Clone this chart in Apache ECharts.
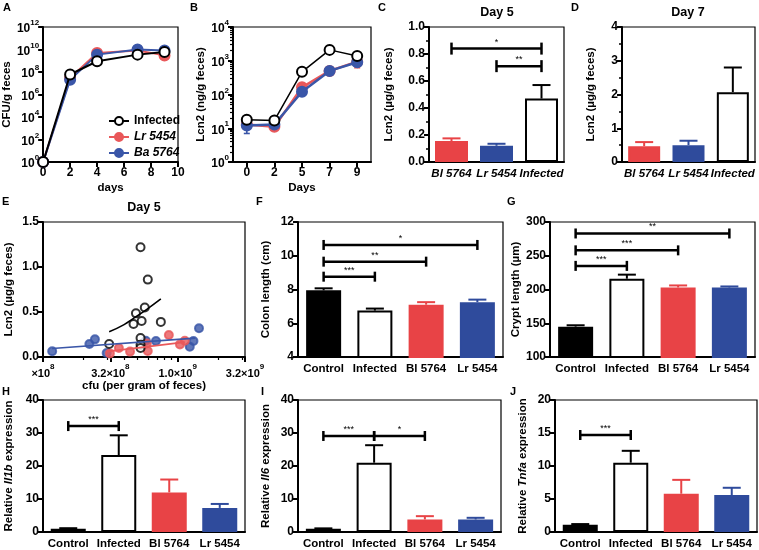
<!DOCTYPE html>
<html><head><meta charset="utf-8">
<script src="https://cdn.jsdelivr.net/npm/echarts@6/dist/echarts.min.js"></script>
<style>html,body{margin:0;padding:0;background:#fff}#c{width:759px;height:550px}</style>
</head><body><div id="c"></div>
<script>
// ---------- DATA ----------
// Panel A
const daysA = [0, 2, 4, 7, 9];
const cfuInfected = [1, 6e7, 9e8, 3.5e9, 6e9];
const cfuLr = [1, 3e7, 5e9, 8e9, 3e9];
const cfuBa = [1, 2e7, 3.5e9, 1e10, 8e9];
// Panel B
const daysB = ['0', '2', '5', '7', '9'];
const lcnInfected = [18, 17, 470, 2100, 1380];
const lcnInfectedErr = [[16, 21], [15, 18], [430, 520], [1600, 2800], [1150, 1650]];
const lcnLr = [13, 11, 163, 500, 940];
const lcnLrErr = [[11, 15], [10, 12], [145, 180], [380, 620], [620, 1100]];
const lcnBa = [12, 13, 121, 500, 900];
const lcnBaErr = [[7, 16], [12, 15], [105, 140], [420, 600], [700, 1050]];
const bStarText = ['**', '***'];
const bStarDay = [3, 3];
const bStarValue = [920, 205];
// Panels C, D
const groupsCD = ['Bl 5764', 'Lr 5454', 'Infected'];
const lcnDay5 = [0.155, 0.12, 0.47];
const lcnDay5Err = [0.02, 0.015, 0.10];
const lcnDay7 = [0.47, 0.50, 2.07];
const lcnDay7Err = [0.12, 0.13, 0.73];
const bracketsC = [[0, 2, 0.84, '*'], [1, 2, 0.71, '**']];
// Panel E (cfu per gram, Lcn2 ug/g)
const eInfCfu = [5.3e8, 6.0e8, 5.7e8, 4.9e8, 5.4e8, 4.7e8, 7.5e8, 3.1e8, 5.3e8, 5.3e8, 5.3e8];
const eInfLcn = [1.22, 0.86, 0.55, 0.485, 0.40, 0.367, 0.39, 0.145, 0.21, 0.135, 0.10];
const eLrCfu = [3.14e8, 3.66e8, 4.43e8, 5.9e8, 6.0e8, 8.6e8, 1.04e9, 1.13e9];
const eLrLcn = [0.04, 0.10, 0.06, 0.15, 0.067, 0.245, 0.14, 0.18];
const eBaCfu = [1.17e8, 2.21e8, 2.43e8, 2.97e8, 5.8e8, 6.9e8, 1.44e9, 1.31e9, 1.23e9];
const eBaLcn = [0.063, 0.144, 0.196, 0.044, 0.18, 0.178, 0.32, 0.178, 0.115];
const eInfFitCfu = [3.1e8, 4.0e8, 4.7e8, 5.9e8, 7.5e8];
const eInfFitLcn = [0.28, 0.36, 0.43, 0.53, 0.645];
const eLrFitCfu = [2.95e8, 1.13e9];
const eLrFitLcn = [0.06, 0.165];
const eBaFitCfu = [1.17e8, 1.35e9];
const eBaFitLcn = [0.095, 0.21];
const eTickExp = [8, 8.5, 9, 9.5];
const eTickMant = ['', '3.2', '1.0', '3.2'];
const eTickPow = ['8', '8', '9', '9'];
// Panels F-J
const groups4 = ['Control', 'Infected', 'Bl 5764', 'Lr 5454'];
const colonLength = [7.95, 6.75, 7.1, 7.25];
const colonLengthErr = [0.12, 0.12, 0.15, 0.15];
const bracketsF = [[0, 1, 8.76, '***'], [0, 2, 9.65, '**'], [0, 3, 10.64, '*']];
const cryptLength = [145, 216, 203, 203];
const cryptLengthErr = [2, 6, 3, 1.5];
const bracketsG = [[0, 1, 235, '***'], [0, 2, 258, '***'], [0, 3, 283, '**']];
const il1b = [1.0, 23.3, 12.0, 7.3];
const il1bErr = [0.15, 6.0, 3.9, 1.2];
const bracketsH = [[0, 1, 32.1, '***']];
const il6 = [1.0, 21.0, 3.8, 3.8];
const il6Err = [0.1, 5.3, 1.0, 0.5];
const bracketsI = [[0, 1, 29.1, '***'], [1, 2, 29.1, '*']];
const tnfa = [1.1, 10.5, 5.8, 5.6];
const tnfaErr = [0.1, 1.8, 2.1, 1.1];
const bracketsJ = [[0, 1, 14.7, '***']];

// ---------- STYLE ----------
const FONT = '"Liberation Sans", Arial, sans-serif';
const RED = '#e84346', BLUE = '#2f4b9c', RED_L = '#e9585a', BLUE_L = '#3a56a8';
const lg = Math.log10;
const chart = echarts.init(document.getElementById('c'), null, {renderer: 'canvas'});

const gridPos = [
  [43, 27, 135, 135],   // A
  [233, 27, 138, 135],  // B
  [429, 27, 135, 135],  // C
  [622, 27, 133, 135],  // D
  [43, 222, 202, 135],  // E
  [298, 222, 205, 135], // F
  [550, 222, 205, 135], // G
  [43, 400, 202, 135],  // H
  [298, 400, 203, 135], // I
  [555, 400, 202, 135]  // J
];
const grid = gridPos.map(p => ({left: p[0], top: p[1], width: p[2], height: p[3], show: true, borderColor: '#000', borderWidth: 1.2, backgroundColor: 'transparent'}));

const aLine = {show: true, onZero: false, lineStyle: {color: '#000', width: 2}};
const aTick = {show: true, length: 5, lineStyle: {color: '#000', width: 2}};
const tFont = {color: '#000', fontFamily: FONT, fontWeight: 'bold', fontSize: 12};
const nameFont = {color: '#000', fontFamily: FONT, fontWeight: 'bold', fontSize: 11.5};
const supRich = {
  b: {fontSize: 12, fontWeight: 'bold', fontFamily: FONT, color: '#000', lineHeight: 16, verticalAlign: 'bottom'},
  s: {fontSize: 8, fontWeight: 'bold', fontFamily: FONT, color: '#000', lineHeight: 8, verticalAlign: 'top'}
};

function yVal(gi, min, max, interval, name, gap, fmt, extra) {
  return Object.assign({
    type: 'value', gridIndex: gi, min, max, interval,
    splitLine: {show: false}, axisLine: aLine, axisTick: aTick,
    axisLabel: Object.assign({}, tFont, {margin: 4, formatter: fmt}),
    name, nameLocation: 'middle', nameGap: gap, nameTextStyle: nameFont
  }, extra || {});
}
function xCat(gi, data, italic, extra) {
  return Object.assign({
    type: 'category', gridIndex: gi, data,
    axisLine: aLine, axisTick: {show: false},
    axisLabel: Object.assign({}, tFont, {fontSize: 11.5, margin: 6, interval: 0, fontStyle: italic ? 'italic' : 'normal'})
  }, extra || {});
}

const xAxis = [], yAxis = [];
// A (0)
xAxis.push({type: 'value', gridIndex: 0, min: 0, max: 10, interval: 2, splitLine: {show: false}, axisLine: aLine, axisTick: aTick,
  axisLabel: Object.assign({}, tFont, {margin: 5}), name: 'days', nameLocation: 'middle', nameGap: 20, nameTextStyle: nameFont});
yAxis.push(yVal(0, 0, 12, 2, 'CFU/g feces', 28, v => '{b|10}{s|' + v + '}', {axisLabel: Object.assign({}, tFont, {margin: 4, formatter: v => '{b|10}{s|' + v + '}', rich: supRich})}));
// B (1)
xAxis.push(xCat(1, daysB, false, {axisTick: {show: true, alignWithLabel: true, length: 5, lineStyle: {color: '#000', width: 2}},
  name: 'Days', nameLocation: 'middle', nameGap: 20, nameTextStyle: nameFont, axisLabel: Object.assign({}, tFont, {margin: 5})}));
yAxis.push(yVal(1, 0, 4, 1, 'Lcn2 (ng/g feces)', 24, null, {axisLabel: Object.assign({}, tFont, {margin: 4, formatter: v => '{b|10}{s|' + v + '}', rich: supRich})}));
// C (2)
xAxis.push(xCat(2, groupsCD, true));
yAxis.push(yVal(2, 0, 1, 0.2, 'Lcn2 (µg/g feces)', 34, v => v.toFixed(1), {minorTick: {show: true, splitNumber: 2, length: 3, lineStyle: {color: '#000', width: 1.5}}}));
// D (3)
xAxis.push(xCat(3, groupsCD, true));
yAxis.push(yVal(3, 0, 4, 1, 'Lcn2 (µg/g feces)', 25, null, {minorTick: {show: true, splitNumber: 2, length: 3, lineStyle: {color: '#000', width: 1.5}}}));
// E (4)
xAxis.push({type: 'value', gridIndex: 4, min: 8, max: 9.5, interval: 0.5, splitLine: {show: false}, axisLine: aLine, axisTick: aTick,
  axisLabel: Object.assign({}, tFont, {margin: 6, formatter: v => {
    const i = eTickExp.indexOf(v); return '{b|' + eTickMant[i] + '×10}{s|' + eTickPow[i] + '}';
  }, rich: {b: Object.assign({}, supRich.b, {fontSize: 11}), s: supRich.s}}),
  name: 'cfu (per gram of feces)', nameLocation: 'middle', nameGap: 21, nameTextStyle: nameFont});
yAxis.push(yVal(4, 0, 1.5, 0.5, 'Lcn2 (µg/g feces)', 28, v => v.toFixed(1)));
// F (5)
xAxis.push(xCat(5, groups4, false));
yAxis.push(yVal(5, 4, 12, 2, 'Colon length (cm)', 26));
// G (6)
xAxis.push(xCat(6, groups4, false));
yAxis.push(yVal(6, 100, 300, 50, 'Crypt length (µm)', 22));
// H (7)
xAxis.push(xCat(7, groups4, false));
yAxis.push(yVal(7, 0, 40, 10, 'Relative {i|Il1b} expression', 28, null, {nameTextStyle: Object.assign({}, nameFont, {rich: {i: Object.assign({}, nameFont, {fontStyle: 'italic'})}})}));
// I (8)
xAxis.push(xCat(8, groups4, false));
yAxis.push(yVal(8, 0, 40, 10, 'Relative {i|Il6} expression', 26, null, {nameTextStyle: Object.assign({}, nameFont, {rich: {i: Object.assign({}, nameFont, {fontStyle: 'italic'})}})}));
// J (9)
xAxis.push(xCat(9, groups4, false));
yAxis.push(yVal(9, 0, 20, 5, 'Relative {i|Tnfa} expression', 26, null, {nameTextStyle: Object.assign({}, nameFont, {rich: {i: Object.assign({}, nameFont, {fontStyle: 'italic'})}})}));
// extra minor-tick axes: E x (10), B y (10)
const eMinor = [];
[1e8, 1e9].forEach(d => { for (let k = 2; k <= 9; k++) { const v = lg(k * d); if (v <= 9.5) eMinor.push(v); } });
xAxis.push({type: 'value', gridIndex: 4, min: 8, max: 9.5, position: 'bottom', axisLine: {show: false}, splitLine: {show: false},
  axisLabel: {show: false}, axisTick: {show: true, length: 3, customValues: eMinor, lineStyle: {color: '#000', width: 1.2}}});
const bMinor = [];
[1, 10, 100, 1000].forEach(d => { for (let k = 2; k <= 9; k++) bMinor.push(lg(k * d)); });
yAxis.push({type: 'value', gridIndex: 1, min: 0, max: 4, position: 'left', axisLine: {show: false}, splitLine: {show: false},
  axisLabel: {show: false}, axisTick: {show: true, length: 3, customValues: bMinor, lineStyle: {color: '#000', width: 1.2}}});

// ---------- SERIES HELPERS ----------
function barSeries(gi, vals, fills, borders, bw) {
  return {type: 'bar', xAxisIndex: gi, yAxisIndex: gi, barWidth: bw, z: 3, clip: true, animation: false,
    data: vals.map((v, i) => ({value: v, itemStyle: {color: fills[i], borderColor: borders[i], borderWidth: 2}}))};
}
function errSeries(gi, vals, errs, colors, cap) {
  return {type: 'custom', xAxisIndex: gi, yAxisIndex: gi, z: 2, animation: false,
    data: vals.map((v, i) => [i, v, v + errs[i]]),
    renderItem(params, api) {
      const p0 = api.coord([api.value(0), api.value(1)]);
      const p1 = api.coord([api.value(0), api.value(2)]);
      const c = colors[params.dataIndex];
      return {type: 'group', children: [
        {type: 'line', shape: {x1: p0[0], y1: p0[1], x2: p1[0], y2: p1[1]}, style: {stroke: c, lineWidth: 2}},
        {type: 'line', shape: {x1: p1[0] - cap, y1: p1[1], x2: p1[0] + cap, y2: p1[1]}, style: {stroke: c, lineWidth: 2}}
      ]};
    }};
}
function bracketSeries(gi, list, tickH) {
  return {type: 'custom', xAxisIndex: gi, yAxisIndex: gi, z: 6, animation: false,
    data: list.map(b => [b[0], b[2], b[1]]),
    renderItem(params, api) {
      const a = api.coord([api.value(0), api.value(1)]);
      const b = api.coord([api.value(2), api.value(1)]);
      const t = list[params.dataIndex][3];
      const st = {stroke: '#000', lineWidth: 2.5};
      return {type: 'group', children: [
        {type: 'line', shape: {x1: a[0], y1: a[1], x2: b[0], y2: b[1]}, style: st},
        {type: 'line', shape: {x1: a[0], y1: a[1] - tickH / 2, x2: a[0], y2: a[1] + tickH / 2}, style: st},
        {type: 'line', shape: {x1: b[0], y1: b[1] - tickH / 2, x2: b[0], y2: b[1] + tickH / 2}, style: st},
        {type: 'text', style: {text: t, x: (a[0] + b[0]) / 2, y: a[1] - 2, align: 'center', verticalAlign: 'bottom',
          fontSize: 9, fontFamily: FONT, fill: '#000'}}
      ]};
    }};
}
function rangeErrSeries(gi, cats, ranges, color, cap) {
  return {type: 'custom', xAxisIndex: gi, yAxisIndex: gi, z: 1, animation: false,
    data: ranges.map((r, i) => [i, lg(r[0]), lg(r[1])]),
    renderItem(params, api) {
      const p0 = api.coord([api.value(0), api.value(1)]);
      const p1 = api.coord([api.value(0), api.value(2)]);
      const st = {stroke: color, lineWidth: 1.6};
      return {type: 'group', children: [
        {type: 'line', shape: {x1: p0[0], y1: p0[1], x2: p1[0], y2: p1[1]}, style: st},
        {type: 'line', shape: {x1: p0[0] - cap, y1: p0[1], x2: p0[0] + cap, y2: p0[1]}, style: st},
        {type: 'line', shape: {x1: p1[0] - cap, y1: p1[1], x2: p1[0] + cap, y2: p1[1]}, style: st}
      ]};
    }};
}

const colCD = [RED, BLUE, '#fff'];
const bordCD = [RED, BLUE, '#000'];
const errCD = [RED, BLUE, '#000'];
const col4 = ['#000', '#fff', RED, BLUE];
const bord4 = ['#000', '#000', RED, BLUE];
const err4 = ['#000', '#000', RED, BLUE];

const series = [];
// A
const lineA = (name, ys, color, fill, z) => ({
  type: 'line', name, xAxisIndex: 0, yAxisIndex: 0, z, animation: false,
  data: daysA.map((d, i) => [d, lg(ys[i])]),
  symbol: 'circle', symbolSize: 10,
  lineStyle: {color, width: 2},
  itemStyle: {color: fill, borderColor: color, borderWidth: 2}
});
series.push(lineA('Lr 5454', cfuLr, RED_L, RED_L, 3));
series.push(lineA('Ba 5764', cfuBa, BLUE_L, BLUE_L, 4));
series.push(lineA('Infected', cfuInfected, '#000', '#fff', 5));
// B
const lineB = (name, ys, color, fill, z) => ({
  type: 'line', name, xAxisIndex: 1, yAxisIndex: 1, z, animation: false,
  data: ys.map((v, i) => [i, lg(v)]),
  symbol: 'circle', symbolSize: 10,
  lineStyle: {color, width: color === '#000' ? 1.5 : 2.5},
  itemStyle: {color: fill, borderColor: color, borderWidth: 2}
});
series.push(rangeErrSeries(1, daysB, lcnLrErr, RED_L, 3));
series.push(rangeErrSeries(1, daysB, lcnBaErr, BLUE_L, 3));
series.push(rangeErrSeries(1, daysB, lcnInfectedErr, '#000', 3));
series.push(lineB('B Lr 5454', lcnLr, RED_L, RED_L, 3));
series.push(lineB('B Ba 5764', lcnBa, BLUE_L, BLUE_L, 4));
series.push(lineB('B Infected', lcnInfected, '#000', '#fff', 5));
series.push({type: 'scatter', xAxisIndex: 1, yAxisIndex: 1, symbolSize: 1, itemStyle: {opacity: 0}, z: 6, animation: false,
  data: bStarText.map((t, i) => ({value: [bStarDay[i], lg(bStarValue[i])],
    label: {show: true, position: 'inside', formatter: t, color: i === 0 ? RED_L : BLUE_L, fontSize: 10, fontWeight: 'bold', fontFamily: FONT}}))});
// C
series.push(errSeries(2, lcnDay5, lcnDay5Err, errCD, 9));
series.push(barSeries(2, lcnDay5, colCD, bordCD, 33));
series.push(bracketSeries(2, bracketsC, 12));
// D
series.push(errSeries(3, lcnDay7, lcnDay7Err, errCD, 9));
series.push(barSeries(3, lcnDay7, colCD, bordCD, 32));
// E
const scat = (cfu, lcn, color, fill, z) => ({type: 'scatter', xAxisIndex: 4, yAxisIndex: 4, z, animation: false,
  symbol: 'circle', symbolSize: 8,
  itemStyle: {color: fill, borderColor: color, borderWidth: 2},
  data: cfu.map((c, i) => [lg(c), lcn[i]])});
const fit = (cfu, lcn, color, z) => ({type: 'line', xAxisIndex: 4, yAxisIndex: 4, z, animation: false, smooth: true, showSymbol: false, symbol: 'none',
  lineStyle: {color, width: 1.6}, data: cfu.map((c, i) => [lg(c), lcn[i]])});
series.push(scat(eBaCfu, eBaLcn, BLUE_L, BLUE_L, 3));
series.push(scat(eLrCfu, eLrLcn, RED_L, RED_L, 4));
series.push(scat(eInfCfu, eInfLcn, '#000', '#fff', 5));
series.push(fit(eBaFitCfu, eBaFitLcn, BLUE_L, 6));
series.push(fit(eLrFitCfu, eLrFitLcn, RED_L, 6));
series.push(fit(eInfFitCfu, eInfFitLcn, '#000', 6));
// F..J
[[5, colonLength, colonLengthErr, bracketsF], [6, cryptLength, cryptLengthErr, bracketsG],
 [7, il1b, il1bErr, bracketsH], [8, il6, il6Err, bracketsI], [9, tnfa, tnfaErr, bracketsJ]].forEach(p => {
  series.push(errSeries(p[0], p[1], p[2], err4, 9));
  series.push(barSeries(p[0], p[1], col4, bord4, 35));
  series.push(bracketSeries(p[0], p[3], 10));
});

// ---------- TEXT ----------
const letters = [['A', 3, 2], ['B', 190, 2], ['C', 378, 2], ['D', 571, 2], ['E', 2, 196], ['F', 256, 196], ['G', 507, 196], ['H', 2, 386], ['I', 261, 386], ['J', 510, 386]];
const titles = [['Day 5', 497, 13], ['Day 7', 688, 13], ['Day 5', 144, 208]];
const graphic = letters.map(l => ({type: 'text', left: l[1], top: l[2], style: {text: l[0], font: 'bold 11px ' + FONT, fill: '#000'}}))
  .concat(titles.map(t => ({type: 'text', x: t[1], y: t[2], style: {text: t[0], font: 'bold 12.5px ' + FONT, fill: '#000', align: 'center', verticalAlign: 'middle'}})));

chart.setOption({
  animation: false,
  grid, xAxis, yAxis, series, graphic,
  legend: {left: 103, top: 110, orient: 'vertical', itemWidth: 20, itemHeight: 10, itemGap: 4, selectedMode: false,
    textStyle: {fontFamily: FONT, fontWeight: 'bold', fontSize: 12, color: '#000'},
    data: [{name: 'Infected'}, {name: 'Lr 5454', textStyle: {fontStyle: 'italic'}}, {name: 'Ba 5764', textStyle: {fontStyle: 'italic'}}]}
});
</script></body></html>
